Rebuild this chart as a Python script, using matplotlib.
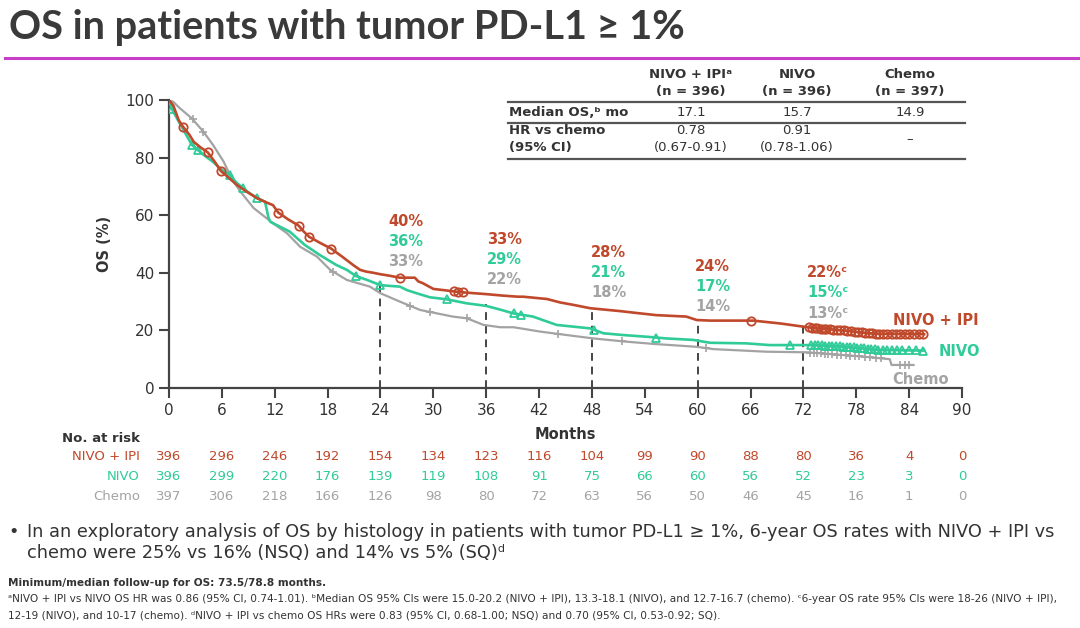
import numpy as np
import matplotlib
matplotlib.use("Agg")
import matplotlib.pyplot as plt
from matplotlib.lines import Line2D

plt.rcParams['font.family'] = ['DejaVu Sans']

W, H = 1080, 628

# ---------------- data ----------------
months_ticks = list(range(0, 91, 6))
yticks = [0, 20, 40, 60, 80, 100]

ipi_t = [0, 0.5, 1.1, 1.6, 2.3, 2.8, 3.6, 4.4, 5.2, 5.9, 6.6, 7.7, 8.8, 10.0, 11.0, 11.8, 12.4,
         13.5, 14.7, 15.3, 15.9, 17.2, 18.4, 19.7, 20.9, 21.7, 22.4, 23.2, 24.0, 25.0, 26.2, 27.9,
         28.3, 28.8, 30.0, 31.4, 32.7, 33.8, 36.0, 37.8, 39.6, 40.2, 42.9, 44.4, 46.0, 47.8,
         49.5, 51.2, 53.2, 55.3, 58.7, 59.9, 61.4, 66.3, 69.4, 72.0, 73.3, 75.0, 76.9, 78.2,
         79.6, 81.0, 85.7]
ipi_v = [100, 98, 93, 90.7, 88, 85.5, 83.5, 81.8, 78.5, 75.3, 73.5, 70.5, 68.2, 65.9, 64.5, 63.5, 60.9,
         58.6, 56.4, 54.3, 52.5, 50.3, 48.4, 45.5, 42.7, 41.0, 40.4, 40.0, 39.5, 39.0, 38.3, 38.3,
         37.0, 36.4, 34.4, 33.9, 33.4, 33.1, 32.6, 32.1, 31.7, 31.7, 30.9, 29.7, 28.8, 27.7,
         27.2, 26.7, 26.0, 25.3, 24.8, 23.6, 23.4, 23.4, 22.4, 21.3, 20.8, 20.4, 19.9, 19.4,
         19.0, 18.8, 18.7]

nivo_t = [0, 0.3, 1.2, 2.6, 3.9, 5.0, 5.9, 6.9, 7.6, 8.6, 9.95, 10.9, 11.3, 11.5, 12.6, 13.7,
          15.4, 17.1, 19.0, 20.2, 21.2, 22.5, 24.0, 26.2, 27.0, 28.1, 29.6, 31.5, 33.8, 35.3,
          36.0, 37.5, 39.1, 41.3, 44.0, 47.8, 49.3, 51.5, 54.2, 56.5, 59.5, 61.4, 65.5, 68.2,
          73.3, 76.9, 80.7, 85.7]
nivo_v = [100, 97, 92, 84.4, 81, 78.5, 76, 74, 71.5, 68.8, 66, 64.7, 59, 57.7, 56, 54.3,
          49.7, 46.2, 42.7, 41.0, 38.9, 37.5, 35.7, 35.2, 34.0, 32.9, 31.5, 30.8, 29.4, 28.8,
          28.5, 27.3, 25.9, 24.8, 21.9, 20.7, 19.0, 18.4, 17.8, 17.2, 16.7, 15.7, 15.5, 14.9,
          14.9, 14.3, 13.2, 13.0]

chemo_t = [0, 0.5, 1.25, 2.6, 3.9, 5.0, 6.2, 7.1, 8.1, 9.6, 11.8, 13.4, 14.9, 16.8, 18.3, 20.2,
           22.8, 24.0, 26.2, 28.5, 32.2, 33.8, 35.7, 37.6, 39.1, 42.1, 45.1,
           48.2, 51.5, 55.0, 59.9, 61.8, 67.8, 72.4, 75.5, 78.8, 81.8, 82.0, 84.5]
chemo_v = [100, 99.3, 97.1, 93.6, 89, 84.4, 78.6, 72.8, 68.2, 62.5, 57.2, 53.7, 49.0, 45.6, 41.0, 37.5,
           35.2, 32.9, 30.0, 27.1, 24.8, 24.2, 21.9, 21.1, 21.1, 19.6, 18.4,
           17.2, 16.2, 15.3, 14.3, 13.5, 12.6, 12.4, 11.7, 10.9, 10.0, 8.0, 8.0]

ipi_cens = [1.6, 4.4, 5.9, 12.4, 14.7, 15.9, 18.4, 26.2, 32.3, 32.8, 33.4, 66.0,
            72.6, 73.0, 73.3, 73.6, 74.0, 74.3, 74.6, 75.0, 75.4, 75.8, 76.2, 76.6, 77.0, 77.4,
            77.8, 78.2, 78.6, 79.0, 79.4, 79.8, 80.2, 80.6, 81.0, 81.5, 82.0, 82.5, 83.0, 83.5,
            84.0, 84.6, 85.1, 85.6]
nivo_cens = [0.3, 2.6, 3.3, 6.9, 8.4, 9.95, 21.2, 24.0, 31.5, 39.1, 40.0, 48.2, 55.3, 70.5,
             72.9, 73.3, 73.7, 74.1, 74.5, 74.9, 75.3, 75.7, 76.1, 76.5, 76.9, 77.3, 77.7,
             78.1, 78.5, 78.9, 79.3, 79.7, 80.1, 80.5, 81.0, 81.5, 82.0, 82.6, 83.2, 84.0,
             84.8, 85.6]
chemo_cens = [2.7, 3.9, 18.6, 27.4, 29.6, 33.8, 44.2, 51.4, 61.0,
              72.8, 73.2, 73.6, 74.0, 74.4, 74.8, 75.3, 75.8, 76.3, 76.8, 77.3, 77.8, 78.3,
              79.0, 79.6, 80.2, 80.8, 83.0, 83.5, 84.0]

landmark_months = [24, 36, 48, 60, 72]
ipi_rates = ["40%", "33%", "28%", "24%", "22%ᶜ"]
nivo_rates = ["36%", "29%", "21%", "17%", "15%ᶜ"]
chemo_rates = ["33%", "22%", "18%", "14%", "13%ᶜ"]
dash_top = [36, 29, 28, 24, 22]

risk_ipi = [396, 296, 246, 192, 154, 134, 123, 116, 104, 99, 90, 88, 80, 36, 4, 0]
risk_nivo = [396, 299, 220, 176, 139, 119, 108, 91, 75, 66, 60, 56, 52, 23, 3, 0]
risk_chemo = [397, 306, 218, 166, 126, 98, 80, 72, 63, 56, 50, 46, 45, 16, 1, 0]

table_cols = ["NIVO + IPIᵃ\n(n = 396)", "NIVO\n(n = 396)", "Chemo\n(n = 397)"]
median_os = ["17.1", "15.7", "14.9"]
hr_vals = ["0.78\n(0.67-0.91)", "0.91\n(0.78-1.06)", "–"]

# ---------------- style ----------------
RED = "#C0482B"
GREEN = "#2FCB98"
GRAY = "#A3A3A3"
DARK = "#333333"


def fx(x):
    return x / W


def fy(y):
    return 1 - y / H


fig = plt.figure(figsize=(W / 100, H / 100), dpi=100)

# title + rule
fig.text(fx(9), fy(28), "OS in patients with tumor PD-L1 ≥ 1%", fontsize=28.6, fontweight="bold",
         color="#3A3A3A", va="center", ha="left", family=["Lato", "DejaVu Sans"])
fig.add_artist(Line2D([fx(5), fx(1080)], [fy(58), fy(58)], color="#C63FC6", lw=2.2))

# axes
ax = fig.add_axes([fx(169), fy(388), fx(962) - fx(169), fy(100) - fy(388)])
ax.set_xlim(0, 90)
ax.set_ylim(0, 100)
for s in ["top", "right"]:
    ax.spines[s].set_visible(False)
for s in ["left", "bottom"]:
    ax.spines[s].set_color("#444444")
    ax.spines[s].set_linewidth(1.6)
ax.set_xticks(months_ticks)
ax.set_yticks(yticks)
ax.tick_params(axis="both", direction="out", length=7, width=1.5, color="#444444",
               labelsize=11, labelcolor=DARK)
ax.tick_params(axis="x", pad=4)
ax.set_xlabel("Months", fontsize=10.5, fontweight="bold", color=DARK, labelpad=6)
ax.set_ylabel("OS (%)", fontsize=10.5, fontweight="bold", color=DARK, labelpad=10)


def curve_val(t, v, x):
    return np.interp(x, t, v)


# dashed landmark lines
for m, top in zip(landmark_months, dash_top):
    ax.plot([m, m], [0, top], ls=(0, (4, 3)), color="#444444", lw=1.4, zorder=1)

# curves
ax.plot(chemo_t, chemo_v, color=GRAY, lw=1.6, zorder=2)
ax.plot(nivo_t, nivo_v, color=GREEN, lw=1.9, zorder=3)
ax.plot(ipi_t, ipi_v, color=RED, lw=1.9, zorder=4)

ax.plot(chemo_cens, curve_val(chemo_t, chemo_v, chemo_cens), ls="none", marker="+",
        ms=6, mew=1.2, color=GRAY, zorder=2)
ax.plot(nivo_cens, curve_val(nivo_t, nivo_v, nivo_cens), ls="none", marker="^",
        ms=6, mfc="none", mew=1.3, color=GREEN, zorder=3)
ax.plot(ipi_cens, curve_val(ipi_t, ipi_v, ipi_cens), ls="none", marker="o",
        ms=6, mfc="none", mew=1.3, color=RED, zorder=4)

# landmark rate labels
label_x = [24.9, 36.1, 47.9, 59.7, 72.4]
label_y0 = [57.8, 51.5, 47.0, 42.2, 40.0]
for lx, ly, a, b, c in zip(label_x, label_y0, ipi_rates, nivo_rates, chemo_rates):
    ax.text(lx, ly, a, color=RED, fontsize=10.5, fontweight="bold", va="center", ha="left")
    ax.text(lx, ly - 7.0, b, color=GREEN, fontsize=10.5, fontweight="bold", va="center", ha="left")
    ax.text(lx, ly - 14.0, c, color=GRAY, fontsize=10.5, fontweight="bold", va="center", ha="left")

# end labels
ax.text(82.2, 23.3, "NIVO + IPI", color=RED, fontsize=10.5, fontweight="bold", va="center", ha="left")
ax.text(87.3, 12.5, "NIVO", color=GREEN, fontsize=10.5, fontweight="bold", va="center", ha="left")
ax.text(82.1, 3.1, "Chemo", color=GRAY, fontsize=10.5, fontweight="bold", va="center", ha="left")

# table
tab_left, tab_right = 508, 965
col_x = [691, 797, 910]
for i, (c, mo, hr) in enumerate(zip(table_cols, median_os, hr_vals)):
    l1, l2 = c.split("\n")
    fig.text(fx(col_x[i]), fy(75), l1, fontsize=9.5, fontweight="bold", color=DARK, ha="center", va="center")
    fig.text(fx(col_x[i]), fy(91), l2, fontsize=9.5, fontweight="bold", color=DARK, ha="center", va="center")
    fig.text(fx(col_x[i]), fy(112), mo, fontsize=9.5, color=DARK, ha="center", va="center")
    parts = hr.split("\n")
    if len(parts) == 2:
        fig.text(fx(col_x[i]), fy(131), parts[0], fontsize=9.5, color=DARK, ha="center", va="center")
        fig.text(fx(col_x[i]), fy(148), parts[1], fontsize=9.5, color=DARK, ha="center", va="center")
    else:
        fig.text(fx(col_x[i]), fy(140), parts[0], fontsize=9.5, color=DARK, ha="center", va="center")
fig.text(fx(509), fy(112), "Median OS,ᵇ mo", fontsize=9.5, fontweight="bold", color=DARK, ha="left", va="center")
fig.text(fx(509), fy(131), "HR vs chemo", fontsize=9.5, fontweight="bold", color=DARK, ha="left", va="center")
fig.text(fx(509), fy(148), "(95% CI)", fontsize=9.5, fontweight="bold", color=DARK, ha="left", va="center")
for yy in [101.5, 122.5, 159.3]:
    fig.add_artist(Line2D([fx(tab_left), fx(tab_right)], [fy(yy), fy(yy)], color="#555555", lw=1.6))

# number at risk
fig.text(fx(140), fy(438), "No. at risk", fontsize=9.5, fontweight="bold", color=DARK, ha="right", va="center")
rows = [("NIVO + IPI", risk_ipi, RED, 457), ("NIVO", risk_nivo, GREEN, 477), ("Chemo", risk_chemo, GRAY, 497)]
for name, vals, col, yy in rows:
    fig.text(fx(140), fy(yy), name, fontsize=9.5, color=col, ha="right", va="center")
    for m, v in zip(months_ticks, vals):
        xpix = 169 + (962 - 169) * m / 90
        fig.text(fx(xpix), fy(yy), str(v), fontsize=9.5, color=col, ha="center", va="center")

# bullet text
fig.text(fx(8), fy(532), "•", fontsize=12.8, color=DARK, ha="left", va="center")
fig.text(fx(27), fy(532),
         "In an exploratory analysis of OS by histology in patients with tumor PD-L1 ≥ 1%, 6-year OS rates with NIVO + IPI vs",
         fontsize=12.8, color=DARK, ha="left", va="center")
fig.text(fx(27), fy(553), "chemo were 25% vs 16% (NSQ) and 14% vs 5% (SQ)ᵈ",
         fontsize=12.8, color=DARK, ha="left", va="center")

# footnotes
fig.text(fx(8), fy(583), "Minimum/median follow-up for OS: 73.5/78.8 months.", fontsize=7.6,
         fontweight="bold", color=DARK, ha="left", va="center")
fig.text(fx(8), fy(599),
         "ᵃNIVO + IPI vs NIVO OS HR was 0.86 (95% CI, 0.74-1.01). ᵇMedian OS 95% CIs were 15.0-20.2 (NIVO + IPI), 13.3-18.1 (NIVO), and 12.7-16.7 (chemo). ᶜ6-year OS rate 95% CIs were 18-26 (NIVO + IPI),",
         fontsize=7.6, color=DARK, ha="left", va="center")
fig.text(fx(8), fy(615),
         "12-19 (NIVO), and 10-17 (chemo). ᵈNIVO + IPI vs chemo OS HRs were 0.83 (95% CI, 0.68-1.00; NSQ) and 0.70 (95% CI, 0.53-0.92; SQ).",
         fontsize=7.6, color=DARK, ha="left", va="center")

fig.savefig("out.png", dpi=100)
